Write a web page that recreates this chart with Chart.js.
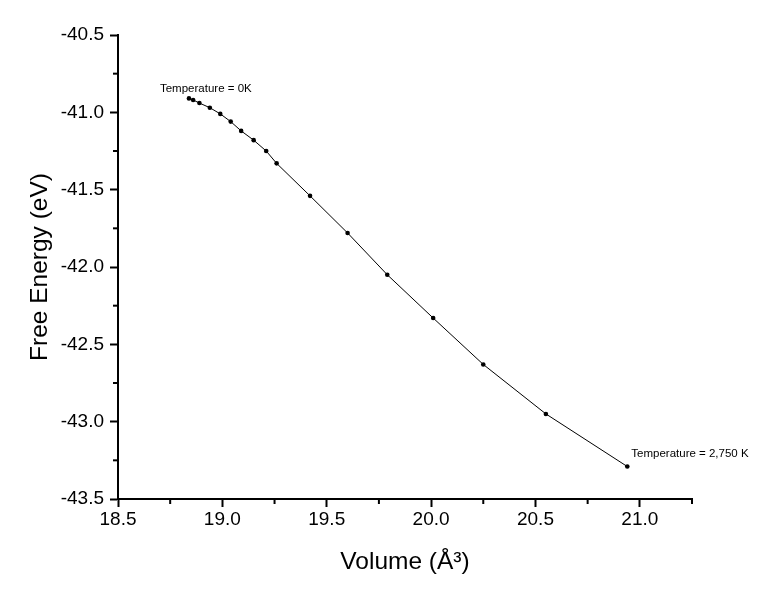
<!DOCTYPE html>
<html>
<head>
<meta charset="utf-8">
<title>Free Energy vs Volume</title>
<script src="https://cdn.jsdelivr.net/npm/chart.js@4.4.1/dist/chart.umd.min.js"></script>
<style>
  html, body { margin: 0; padding: 0; background: #fff; }
  canvas { display: block; }
</style>
</head>
<body>
<canvas id="chart" width="759" height="600"></canvas>
<script>
// values
const volume = [18.84, 18.86, 18.89, 18.94, 18.99, 19.04, 19.09, 19.15, 19.21, 19.26,
                19.42, 19.60, 19.79, 20.01, 20.25, 20.55, 20.94];
const energy = [-40.91, -40.92, -40.94, -40.97, -41.01, -41.06, -41.12, -41.18, -41.25, -41.33,
                -41.54, -41.78, -42.05, -42.33, -42.63, -42.95, -43.29];

const xMinorTicks = [18.75, 19.25, 19.75, 20.25, 20.75, 21.25];
const yMinorTicks = [-40.75, -41.25, -41.75, -42.25, -42.75, -43.25];

const annotations = ['Temperature = 0K', 'Temperature = 2,750 K'];

const FONT = '"Liberation Sans", Arial, sans-serif';

// shorter minor ticks + point labels
const extrasPlugin = {
    id: 'extras',
    afterDraw(chart) {
        const ctx = chart.ctx;
        const xs = chart.scales.x, ys = chart.scales.y;
        ctx.save();
        ctx.strokeStyle = '#000';
        ctx.lineWidth = 2;
        xMinorTicks.forEach(v => {
            const px = xs.getPixelForValue(v);
            ctx.beginPath();
            ctx.moveTo(px, xs.top);
            ctx.lineTo(px, xs.top + 5);
            ctx.stroke();
        });
        yMinorTicks.forEach(v => {
            const py = ys.getPixelForValue(v);
            ctx.beginPath();
            ctx.moveTo(ys.right, py);
            ctx.lineTo(ys.right - 5, py);
            ctx.stroke();
        });

        // labels next to first and last point
        ctx.fillStyle = '#000';
        ctx.font = '11.5px ' + FONT;
        ctx.textBaseline = 'middle';
        ctx.textAlign = 'left';
        const first = 0, last = volume.length - 1;
        ctx.fillText(annotations[0],
            xs.getPixelForValue(volume[first]) - 29,
            ys.getPixelForValue(energy[first]) - 10);
        ctx.fillText(annotations[1],
            xs.getPixelForValue(volume[last]) + 4,
            ys.getPixelForValue(energy[last]) - 13);
        ctx.restore();
    }
};

new Chart(document.getElementById('chart').getContext('2d'), {
    type: 'line',
    data: {
        datasets: [{
            data: volume.map((v, i) => ({ x: v, y: energy[i] })),
            borderColor: '#000',
            backgroundColor: '#000',
            borderWidth: 1,
            pointRadius: 2.3,
            pointBorderWidth: 0,
            tension: 0,
            fill: false
        }]
    },
    options: {
        responsive: false,
        animation: false,
        devicePixelRatio: 1,
        layout: { padding: { left: 0, top: 35, right: 67, bottom: 0 } },
        plugins: {
            legend: { display: false },
            tooltip: { enabled: false }
        },
        scales: {
            x: {
                type: 'linear',
                min: 18.5,
                max: 21.25,
                afterFit: scale => { scale.height = 101; },
                border: { display: true, color: '#000', width: 2 },
                grid: { drawOnChartArea: false, drawTicks: true, tickLength: 8, tickWidth: 2, tickColor: '#000' },
                ticks: {
                    stepSize: 0.5,
                    includeBounds: false,
                    padding: 1,
                    color: '#000',
                    font: { family: FONT, size: 19 },
                    callback: v => v.toFixed(1)
                },
                title: {
                    display: true,
                    text: 'Volume (Å³)',
                    color: '#000',
                    font: { family: FONT, size: 24.5 },
                    padding: { top: 0, bottom: 23 }
                }
            },
            y: {
                type: 'linear',
                min: -43.5,
                max: -40.5,
                afterFit: scale => { scale.width = 118; },
                border: { display: true, color: '#000', width: 2 },
                grid: { drawOnChartArea: false, drawTicks: true, tickLength: 8, tickWidth: 2, tickColor: '#000' },
                ticks: {
                    stepSize: 0.5,
                    padding: 6,
                    color: '#000',
                    font: { family: FONT, size: 19 },
                    callback: v => v.toFixed(1)
                },
                title: {
                    display: true,
                    text: 'Free Energy (eV)',
                    color: '#000',
                    font: { family: FONT, size: 24.5 },
                    padding: { top: 26, bottom: 0 }
                }
            }
        }
    },
    plugins: [extrasPlugin]
});
</script>
</body>
</html>
